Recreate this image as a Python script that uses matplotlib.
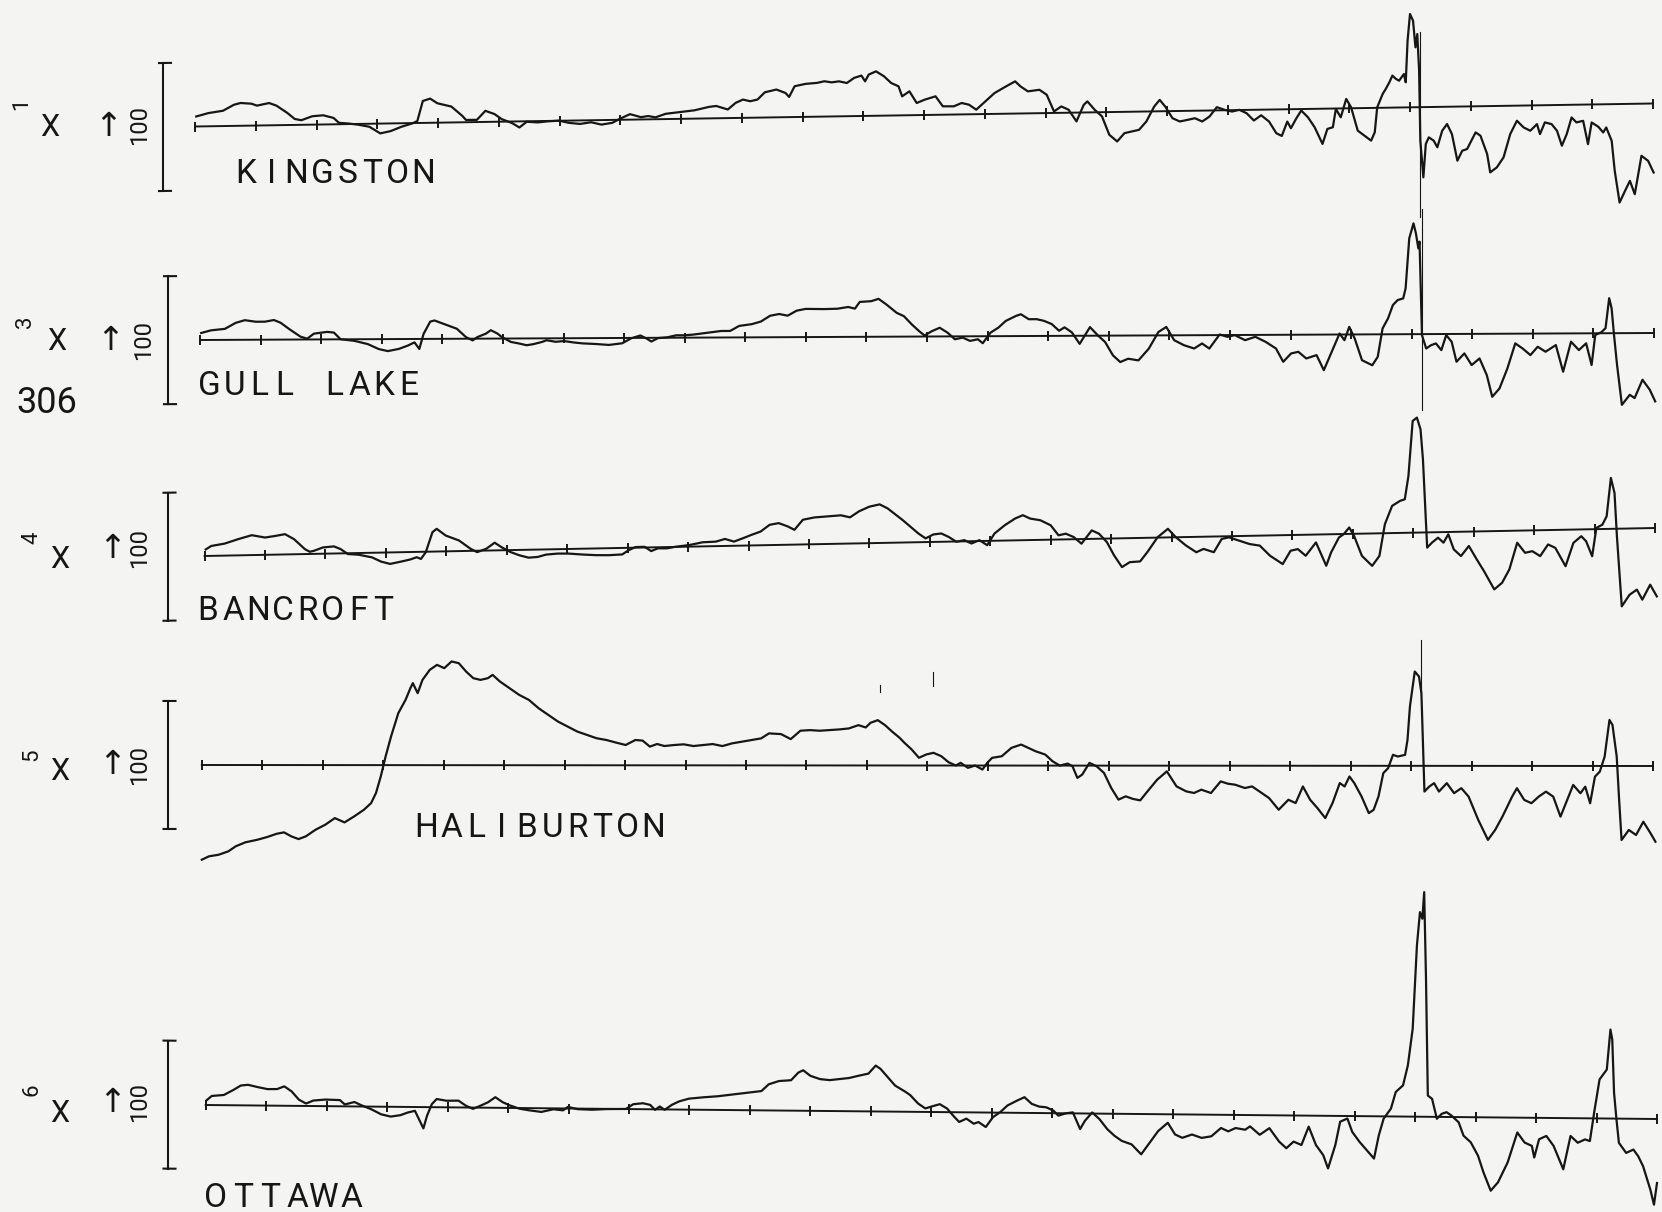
import numpy as np
import matplotlib
matplotlib.use("Agg")
import matplotlib.pyplot as plt
from matplotlib.transforms import Affine2D

# ---------------------------------------------------------------------------
# Aeromagnetic profiles, eastern Ontario.  Distance is in tick intervals
# (0..24 along each line), field is the anomaly in plot units above the
# datum line (positive up).
# ---------------------------------------------------------------------------
stations = ["KINGSTON", "GULL LAKE", "BANCROFT", "HALIBURTON", "OTTAWA"]
profile_numbers = ["1", "3", "4", "5", "6"]
scale_label = "100"
sheet_number = "306"
tick_positions = list(range(25))

kingston = [
    (0.02, 10.0), (0.22, 13.2), (0.46, 15.3), (0.64, 21.1), (0.75, 22.8), (0.93, 21.9),
    (1.02, 19.9), (1.22, 22.3), (1.34, 19.6), (1.52, 12.1), (1.64, 6.0), (1.75, 4.6),
    (1.93, 8.4), (2.11, 9.2), (2.28, 6.4), (2.37, 1.4), (2.52, 0.6), (2.69, -0.8),
    (2.87, -3.0), (3.05, -9.8), (3.22, -7.7), (3.40, -3.5), (3.58, -0.3), (3.66, 2.0),
    (3.75, 21.9), (3.87, 24.2), (3.99, 19.4), (4.22, 15.9), (4.40, 6.4), (4.46, 2.3),
    (4.64, 2.2), (4.78, 11.1), (4.93, 7.7), (5.05, 2.5), (5.22, -1.6), (5.34, -6.1),
    (5.46, -0.5), (5.64, -1.3), (5.81, -0.4), (5.99, 0.1), (6.16, -2.3), (6.34, -3.5),
    (6.52, -2.0), (6.69, -4.5), (6.87, -2.9), (6.99, 0.9), (7.16, 5.5), (7.34, 2.3),
    (7.46, 3.3), (7.58, 1.9), (7.75, 5.3), (7.99, 6.8), (8.22, 8.3), (8.46, 11.5),
    (8.58, 12.3), (8.77, 8.6), (8.90, 15.1), (9.02, 18.3), (9.14, 16.5), (9.26, 18.1),
    (9.38, 25.2), (9.57, 27.8), (9.72, 24.2), (9.78, 20.2), (9.87, 30.8), (10.05, 33.0),
    (10.24, 33.8), (10.36, 35.3), (10.48, 34.1), (10.60, 35.0), (10.73, 33.2), (10.85, 38.2),
    (10.97, 40.4), (11.03, 34.6), (11.09, 41.3), (11.21, 44.4), (11.34, 39.4), (11.46, 32.5),
    (11.58, 29.1), (11.64, 19.0), (11.76, 23.9), (11.88, 12.1), (12.01, 15.3), (12.19, 18.5),
    (12.31, 8.4), (12.49, 8.2), (12.62, 11.4), (12.74, 9.6), (12.86, 4.5), (12.98, 11.0),
    (13.16, 20.8), (13.35, 27.3), (13.50, 32.2), (13.59, 27.0), (13.71, 22.0), (13.90, 23.4),
    (14.02, 18.3), (14.14, 1.5), (14.26, 6.4), (14.38, 3.0), (14.51, -8.8), (14.63, 7.7),
    (14.69, 11.0), (14.81, 2.5), (14.93, -4.2), (15.05, -22.7), (15.18, -29.5), (15.30, -21.3),
    (15.42, -19.7), (15.54, -18.2), (15.66, -10.0), (15.79, 4.9), (15.88, 11.4), (15.97, 4.7),
    (16.09, -7.1), (16.21, -10.5), (16.34, -9.0), (16.46, -7.5), (16.58, -10.9), (16.70, -6.0),
    (16.82, 3.2), (16.95, 0.4), (17.07, -1.4), (17.19, 0.2), (17.31, -3.3), (17.43, -10.7),
    (17.55, -5.6), (17.68, -12.0), (17.80, -23.8), (17.89, -26.6), (17.98, -12.3), (18.04, -19.0),
    (18.13, -9.1), (18.21, -1.5), (18.32, -8.3), (18.43, -18.4), (18.56, -35.2), (18.64, -20.3),
    (18.73, -18.7), (18.78, -0.4), (18.86, -8.9), (18.95, 9.4), (19.03, 1.0), (19.14, -22.5),
    (19.25, -27.6), (19.36, -32.7), (19.42, -24.4), (19.46, 0.5), (19.55, 13.8), (19.60, 18.7),
    (19.66, 25.3), (19.71, 32.0), (19.77, 28.6), (19.82, 26.8), (19.90, 33.4), (19.93, 25.1),
    (19.96, 66.7), (20.00, 93.3), (20.05, 86.6), (20.09, 59.9), (20.12, 73.2), (20.15, 36.5),
    (20.17, -33.5), (20.22, -70.2), (20.26, -36.9), (20.31, -30.3), (20.39, -33.7), (20.45, -40.4),
    (20.53, -23.9), (20.61, -17.3), (20.69, -27.4), (20.78, -54.1), (20.86, -44.2), (20.94, -42.6),
    (21.08, -26.1), (21.16, -29.5), (21.27, -47.9), (21.32, -66.3), (21.43, -61.4), (21.54, -51.5),
    (21.65, -28.3), (21.76, -15.1), (21.87, -21.9), (21.98, -25.3), (22.09, -18.8), (22.14, -28.8),
    (22.22, -17.2), (22.33, -19.0), (22.42, -25.8), (22.50, -40.8), (22.58, -29.2), (22.66, -12.7),
    (22.74, -17.7), (22.85, -16.2), (22.93, -39.6), (22.99, -18.0), (23.10, -22.4), (23.18, -28.2),
    (23.23, -23.2), (23.32, -36.7), (23.37, -66.7), (23.45, -98.5), (23.54, -86.9), (23.62, -77.0),
    (23.70, -90.4), (23.81, -52.1), (23.92, -57.3), (24.01, -69.0),
]

gull_lake = [
    (0.02, 7.0), (0.18, 9.6), (0.41, 11.0), (0.59, 17.0), (0.74, 19.6), (0.92, 18.0),
    (1.07, 18.0), (1.22, 19.6), (1.33, 16.9), (1.48, 10.2), (1.66, 2.8), (1.77, 0.8),
    (1.88, 5.8), (2.10, 7.5), (2.21, 6.8), (2.32, 0.1), (2.55, -1.6), (2.77, -4.9),
    (2.95, -9.9), (3.10, -12.0), (3.28, -9.9), (3.43, -6.6), (3.54, -3.4), (3.62, -10.0),
    (3.69, 5.0), (3.80, 17.3), (3.87, 18.4), (4.02, 15.0), (4.24, 10.0), (4.39, 1.6),
    (4.50, -1.7), (4.58, 1.6), (4.72, 5.0), (4.80, 8.4), (4.91, 5.0), (4.98, 1.6),
    (5.13, -3.4), (5.28, -5.2), (5.39, -6.8), (5.50, -5.8), (5.65, -3.5), (5.72, -1.9),
    (5.87, -3.5), (6.01, -2.8), (6.16, -4.2), (6.31, -5.2), (6.53, -5.9), (6.75, -6.9),
    (6.97, -5.3), (7.12, -0.3), (7.27, 2.4), (7.38, -1.0), (7.45, -3.7), (7.56, -0.3),
    (7.71, 0.4), (7.86, 2.4), (8.01, 2.4), (8.15, 3.1), (8.38, 4.8), (8.60, 6.5),
    (8.75, 6.5), (8.90, 11.5), (9.11, 13.2), (9.26, 15.8), (9.41, 21.5), (9.56, 23.2),
    (9.70, 21.5), (9.85, 26.5), (10.00, 28.2), (10.30, 27.9), (10.52, 28.2), (10.70, 29.9),
    (10.81, 28.2), (10.89, 34.9), (11.08, 35.6), (11.20, 37.9), (11.33, 32.2), (11.50, 23.8),
    (11.62, 20.4), (11.75, 12.1), (11.87, 5.4), (11.96, 1.0), (12.08, 5.3), (12.21, 8.7),
    (12.34, 3.7), (12.46, -2.9), (12.59, -1.3), (12.71, -4.6), (12.84, -3.0), (12.92, -7.0),
    (13.05, 3.6), (13.18, 8.6), (13.30, 15.2), (13.47, 20.2), (13.55, 21.8), (13.68, 16.8),
    (13.81, 16.8), (13.93, 15.1), (14.06, 11.8), (14.18, 5.1), (14.27, 8.5), (14.39, 3.5),
    (14.52, -8.1), (14.69, 8.6), (14.82, 0.3), (14.94, -6.4), (15.07, -19.8), (15.19, -26.5),
    (15.32, -23.2), (15.49, -24.9), (15.66, -13.3), (15.82, 3.4), (15.95, 8.4), (16.08, -4.9),
    (16.24, -9.9), (16.41, -13.3), (16.54, -8.3), (16.66, -13.4), (16.83, 0.6), (16.96, -1.8),
    (17.08, -0.1), (17.25, -5.2), (17.42, -1.9), (17.59, -7.0), (17.76, -13.7), (17.88, -27.0),
    (18.01, -18.7), (18.13, -17.1), (18.26, -23.8), (18.43, -20.5), (18.55, -35.6), (18.68, -17.3),
    (18.81, 1.0), (18.89, -5.7), (18.97, 7.6), (19.06, -4.1), (19.18, -25.8), (19.35, -30.9),
    (19.44, -22.5), (19.52, 5.9), (19.61, 15.9), (19.69, 29.2), (19.77, 34.2), (19.86, 35.8),
    (19.90, 45.8), (19.96, 95.8), (20.03, 110.8), (20.07, 100.8), (20.11, 85.8), (20.13, 92.5),
    (20.17, -1.0), (20.24, -14.4), (20.32, -11.1), (20.40, -9.4), (20.49, -16.1), (20.57, -1.1),
    (20.66, -7.8), (20.74, -27.8), (20.87, -19.5), (20.99, -31.2), (21.12, -24.6), (21.24, -41.3),
    (21.33, -63.0), (21.45, -54.7), (21.58, -34.7), (21.71, -9.7), (21.83, -14.8), (21.96, -21.5),
    (22.08, -13.2), (22.21, -18.2), (22.38, -11.6), (22.50, -38.3), (22.63, -8.3), (22.76, -16.7),
    (22.88, -10.0), (22.97, -31.7), (23.03, -1.7), (23.13, 1.0), (23.20, 5.0), (23.26, 35.0),
    (23.30, 25.0), (23.34, -1.7), (23.39, -31.7), (23.47, -71.7), (23.60, -61.7), (23.68, -65.0),
    (23.81, -46.7), (23.93, -56.7), (24.02, -68.4),
]

bancroft = [
    (0.02, 6.6), (0.11, 9.9), (0.33, 12.0), (0.55, 16.1), (0.78, 19.9), (1.00, 17.3),
    (1.18, 18.8), (1.33, 20.3), (1.48, 15.1), (1.66, 4.9), (1.74, 2.2), (1.81, 3.1),
    (1.96, 6.3), (2.14, 7.1), (2.25, 4.3), (2.37, -0.8), (2.55, -1.7), (2.77, -4.6),
    (2.92, -9.0), (3.07, -11.5), (3.25, -9.4), (3.40, -7.5), (3.51, -5.3), (3.58, -7.1),
    (3.66, -0.5), (3.77, 19.4), (3.84, 22.7), (3.99, 15.8), (4.21, 10.6), (4.40, 2.1),
    (4.51, -1.4), (4.66, 1.8), (4.80, 7.7), (4.91, 3.2), (5.06, -1.9), (5.21, -5.4),
    (5.36, -7.9), (5.51, -7.4), (5.65, -5.2), (5.84, -4.4), (6.02, -4.6), (6.25, -5.8),
    (6.47, -6.7), (6.69, -7.0), (6.91, -6.5), (7.02, -2.3), (7.13, 0.6), (7.28, 0.7),
    (7.39, -3.7), (7.50, -1.1), (7.65, -1.3), (7.80, 0.2), (8.02, 1.6), (8.24, 4.1),
    (8.46, 4.5), (8.61, 7.0), (8.76, 4.2), (8.91, 7.4), (9.05, 10.6), (9.20, 13.7),
    (9.35, 20.3), (9.50, 21.8), (9.65, 18.3), (9.76, 14.8), (9.90, 24.7), (10.09, 26.8),
    (10.31, 27.6), (10.53, 28.4), (10.68, 26.2), (10.83, 32.1), (11.00, 36.5), (11.17, 38.6),
    (11.30, 34.5), (11.43, 28.3), (11.55, 22.5), (11.68, 15.6), (11.81, 8.8), (11.93, 3.7),
    (12.06, 7.5), (12.19, 8.3), (12.31, 4.8), (12.44, -0.3), (12.57, 1.2), (12.69, -2.3),
    (12.82, 0.9), (12.95, -4.3), (13.07, 7.2), (13.24, 15.3), (13.41, 21.8), (13.54, 25.0),
    (13.66, 21.5), (13.83, 19.6), (14.00, 14.4), (14.13, 4.2), (14.25, 5.7), (14.38, 2.2),
    (14.51, -4.6), (14.68, 8.5), (14.80, 5.0), (14.93, -3.5), (15.05, -17.0), (15.18, -28.8),
    (15.31, -24.0), (15.48, -23.5), (15.60, -14.3), (15.77, 0.4), (15.94, 8.6), (16.07, 0.1),
    (16.24, -8.5), (16.41, -15.4), (16.53, -12.2), (16.70, -15.7), (16.83, -2.6), (16.95, -1.1),
    (17.12, -4.6), (17.29, -8.2), (17.46, -10.0), (17.63, -20.3), (17.84, -28.9), (17.97, -15.7),
    (18.09, -14.2), (18.22, -21.0), (18.39, -7.9), (18.56, -31.4), (18.64, -18.2), (18.77, -3.4),
    (18.85, -0.1), (18.94, 6.4), (19.02, -2.0), (19.15, -22.2), (19.32, -32.4), (19.44, -22.6),
    (19.53, 9.0), (19.65, 27.2), (19.78, 32.0), (19.86, 33.6), (19.92, 56.8), (19.99, 111.7),
    (20.06, 115.0), (20.12, 103.2), (20.16, 73.2), (20.23, -15.2), (20.31, -10.3), (20.41, -5.5),
    (20.50, -10.6), (20.58, -2.3), (20.67, -17.5), (20.79, -24.3), (20.92, -14.4), (21.05, -27.9),
    (21.17, -39.8), (21.34, -58.3), (21.47, -51.8), (21.59, -38.6), (21.72, -12.1), (21.85, -22.3),
    (21.97, -20.8), (22.10, -25.9), (22.23, -14.4), (22.35, -17.9), (22.52, -36.5), (22.65, -13.3),
    (22.78, -6.8), (22.86, -11.9), (22.96, -27.0), (23.03, 1.2), (23.13, 4.4), (23.20, 12.7),
    (23.27, 50.9), (23.33, 35.8), (23.37, -7.6), (23.45, -77.7), (23.58, -66.2), (23.70, -61.3),
    (23.79, -71.4), (23.92, -56.6), (24.03, -68.4),
]

haliburton = [
    (0.00, -94.7), (0.12, -91.3), (0.28, -89.7), (0.44, -86.3), (0.56, -81.3), (0.72, -77.3),
    (0.92, -74.7), (1.08, -72.0), (1.24, -68.7), (1.36, -67.3), (1.48, -71.3), (1.60, -74.0),
    (1.72, -71.3), (1.88, -64.7), (2.04, -59.7), (2.20, -53.0), (2.36, -57.3), (2.52, -51.3),
    (2.68, -44.7), (2.80, -38.0), (2.88, -28.0), (2.96, -11.3), (3.04, 8.7), (3.13, 28.7),
    (3.25, 52.0), (3.37, 65.3), (3.45, 77.0), (3.49, 82.0), (3.57, 72.0), (3.65, 85.3),
    (3.77, 95.3), (3.89, 100.3), (4.01, 97.0), (4.13, 103.7), (4.25, 102.0), (4.37, 93.7),
    (4.49, 87.0), (4.61, 85.3), (4.73, 87.0), (4.81, 90.3), (4.93, 83.7), (5.09, 77.0),
    (5.25, 70.3), (5.41, 65.3), (5.57, 57.0), (5.73, 50.3), (5.89, 43.7), (6.05, 38.7),
    (6.21, 33.7), (6.37, 30.3), (6.53, 27.0), (6.69, 25.3), (6.85, 22.7), (7.01, 20.3),
    (7.17, 25.3), (7.29, 24.7), (7.41, 18.7), (7.53, 21.3), (7.65, 19.3), (7.81, 20.3),
    (7.97, 21.0), (8.13, 19.3), (8.29, 20.3), (8.45, 21.3), (8.61, 19.3), (8.77, 22.0),
    (8.93, 23.7), (9.09, 25.3), (9.25, 27.0), (9.38, 32.0), (9.58, 31.3), (9.74, 26.3),
    (9.90, 34.7), (10.06, 35.3), (10.22, 34.7), (10.38, 35.3), (10.54, 36.0), (10.70, 37.0),
    (10.86, 40.3), (10.98, 38.0), (11.06, 42.7), (11.18, 45.3), (11.30, 40.3), (11.42, 33.7),
    (11.54, 27.7), (11.62, 22.7), (11.74, 16.0), (11.86, 7.7), (11.98, 11.0), (12.10, 12.7),
    (12.23, 9.3), (12.35, 3.3), (12.47, 0.0), (12.55, 2.7), (12.67, -2.3), (12.79, 0.0),
    (12.91, -4.0), (12.99, 2.7), (13.07, 7.7), (13.23, 9.3), (13.39, 17.7), (13.55, 21.0),
    (13.67, 17.7), (13.79, 14.3), (13.95, 11.0), (14.07, 4.3), (14.19, 0.0), (14.32, 2.0),
    (14.40, -0.7), (14.48, -12.3), (14.56, -9.0), (14.68, 2.7), (14.80, -0.7), (14.92, -7.3),
    (15.04, -22.3), (15.16, -34.0), (15.28, -30.7), (15.40, -33.3), (15.52, -34.7), (15.64, -25.7),
    (15.80, -14.0), (15.96, -5.7), (16.12, -20.7), (16.28, -25.7), (16.41, -27.3), (16.53, -24.0),
    (16.69, -27.3), (16.85, -15.7), (16.97, -18.0), (17.09, -19.0), (17.25, -22.3), (17.37, -20.7),
    (17.49, -25.7), (17.65, -32.3), (17.81, -44.0), (17.97, -34.0), (18.09, -37.3), (18.21, -20.7),
    (18.33, -34.0), (18.45, -42.3), (18.58, -52.3), (18.70, -37.3), (18.82, -17.3), (18.90, -20.7),
    (18.98, -10.7), (19.06, -17.3), (19.18, -30.7), (19.30, -47.3), (19.38, -44.0), (19.46, -30.7),
    (19.54, -7.3), (19.62, -2.3), (19.70, 11.0), (19.78, 9.3), (19.90, 11.0), (19.94, 26.0),
    (19.98, 59.3), (20.06, 94.3), (20.13, 89.3), (20.17, 72.7), (20.22, -25.7), (20.30, -20.7),
    (20.38, -17.3), (20.46, -25.7), (20.59, -17.3), (20.71, -27.3), (20.83, -22.3), (20.95, -30.7),
    (21.11, -54.0), (21.27, -74.0), (21.39, -64.0), (21.51, -50.7), (21.67, -30.7), (21.75, -22.3),
    (21.87, -34.0), (21.99, -37.3), (22.11, -30.7), (22.23, -25.7), (22.35, -30.7), (22.47, -50.7),
    (22.58, -34.0), (22.68, -19.0), (22.80, -27.3), (22.88, -20.7), (22.96, -37.3), (23.04, -10.7),
    (23.12, -5.7), (23.20, 9.3), (23.28, 46.0), (23.33, 41.0), (23.40, 9.3), (23.44, -34.0),
    (23.48, -74.0), (23.60, -64.0), (23.72, -69.0), (23.84, -55.7), (23.96, -67.3), (24.04, -75.7),
]

ottawa = [
    (0.02, 5.0), (0.10, 9.1), (0.30, 10.2), (0.46, 15.4), (0.58, 19.8), (0.70, 20.6),
    (0.86, 18.4), (1.02, 16.5), (1.18, 16.6), (1.30, 19.4), (1.42, 14.5), (1.54, 6.3),
    (1.66, 2.4), (1.78, 5.5), (1.98, 6.6), (2.22, 6.2), (2.30, 1.9), (2.46, 4.4),
    (2.58, 1.1), (2.74, -2.7), (2.90, -7.6), (3.06, -9.8), (3.22, -8.3), (3.34, -5.6),
    (3.46, -3.8), (3.54, -13.7), (3.60, -21.3), (3.66, -8.6), (3.74, 3.1), (3.82, 8.2),
    (3.98, 6.6), (4.18, 6.8), (4.30, 1.9), (4.42, -1.3), (4.55, 2.1), (4.67, 5.5),
    (4.79, 10.6), (4.91, 5.7), (5.03, 2.5), (5.19, -0.7), (5.35, -2.2), (5.55, -3.7),
    (5.75, -0.9), (5.91, -1.9), (5.99, 1.6), (6.15, -0.6), (6.39, -1.0), (6.63, -0.2),
    (6.79, 0.0), (6.95, 0.1), (7.07, 4.9), (7.23, 6.0), (7.35, 4.4), (7.43, -0.5),
    (7.51, 2.9), (7.59, -0.4), (7.71, 4.7), (7.83, 8.2), (7.99, 11.0), (8.23, 12.5),
    (8.47, 13.7), (8.71, 15.6), (8.95, 17.4), (9.19, 19.3), (9.31, 26.1), (9.48, 29.5),
    (9.68, 30.4), (9.80, 38.1), (9.88, 40.5), (10.00, 35.0), (10.16, 31.8), (10.32, 30.9),
    (10.48, 32.0), (10.64, 33.2), (10.80, 35.6), (10.96, 37.8), (11.08, 45.9), (11.16, 42.6),
    (11.28, 34.4), (11.40, 26.1), (11.57, 20.0), (11.65, 16.7), (11.78, 8.4), (11.90, 3.5),
    (12.02, 5.8), (12.14, 7.9), (12.26, 3.6), (12.38, -4.7), (12.46, -9.7), (12.58, -6.3),
    (12.70, -11.3), (12.78, -9.6), (12.90, -14.5), (13.02, -4.5), (13.14, 0.6), (13.26, 7.3),
    (13.42, 12.3), (13.54, 15.7), (13.66, 9.1), (13.78, 6.5), (13.90, 5.8), (14.02, 2.5),
    (14.10, -2.4), (14.22, -0.1), (14.34, 1.0), (14.46, -15.6), (14.54, -7.3), (14.66, 1.1),
    (14.78, -5.5), (14.91, -15.5), (15.03, -22.1), (15.15, -27.1), (15.31, -30.4), (15.47, -40.3),
    (15.59, -30.3), (15.75, -16.9), (15.91, -8.5), (16.03, -20.1), (16.15, -23.4), (16.31, -20.0),
    (16.47, -23.3), (16.63, -21.6), (16.79, -13.2), (16.91, -16.5), (17.03, -13.1), (17.19, -14.7),
    (17.27, -11.3), (17.43, -19.6), (17.59, -12.9), (17.75, -26.2), (17.87, -32.8), (17.99, -26.1),
    (18.12, -29.4), (18.24, -11.0), (18.36, -29.3), (18.48, -39.3), (18.56, -52.6), (18.68, -29.2),
    (18.76, -5.8), (18.88, -2.5), (18.96, -15.8), (19.08, -25.7), (19.20, -34.0), (19.32, -42.3),
    (19.40, -18.9), (19.48, -2.2), (19.60, 7.8), (19.68, 24.5), (19.80, 31.2), (19.88, 51.2),
    (19.96, 87.9), (20.03, 171.3), (20.08, 204.6), (20.12, 198.0), (20.15, 224.6), (20.18, 138.0),
    (20.21, 21.3), (20.28, 18.0), (20.36, -1.9), (20.44, 3.1), (20.52, 4.8), (20.60, 1.5),
    (20.72, -5.2), (20.80, -18.5), (20.92, -25.1), (21.04, -38.4), (21.13, -55.0), (21.25, -73.3),
    (21.37, -64.9), (21.53, -44.9), (21.69, -14.8), (21.81, -24.8), (21.93, -28.1), (21.97, -39.7),
    (22.05, -21.4), (22.17, -18.0), (22.29, -27.9), (22.45, -51.2), (22.57, -17.8), (22.69, -24.5),
    (22.81, -21.1), (22.89, -22.7), (22.96, 5.6), (23.05, 39.0), (23.17, 49.0), (23.23, 89.0),
    (23.26, 79.1), (23.29, 25.7), (23.33, -0.9), (23.37, -24.2), (23.49, -34.2), (23.61, -30.8),
    (23.69, -37.5), (23.77, -47.4), (23.89, -70.7), (23.95, -85.7), (24.00, -64.0),
]

# section-boundary strokes: (distance, top, bottom) in the same units
boundary_marks = {
    "KINGSTON": [(20.17, 75.0, -110.0)],
    "GULL LAKE": [(20.17, 125.0, -76.0)],
    "BANCROFT": [],
    "HALIBURTON": [(20.17, 126.0, 73.0), (11.21, 80.0, 73.5), (12.09, 94.0, 80.0)],
    "OTTAWA": [],
}

profiles = [kingston, gull_lake, bancroft, haliburton, ottawa]

# ---------------------------------------------------------------------------
# Page layout (pixels on a 1662 x 1212 sheet)
# ---------------------------------------------------------------------------
W, H = 1662, 1212
# datum line: x at first tick, x at last tick, y at first tick, y at last tick
datum = [
    (195.0, 1653.0, 126.5, 103.5),
    (200.0, 1654.0, 340.0, 333.0),
    (204.6, 1655.0, 556.0, 528.0),
    (201.8, 1653.0, 765.0, 766.0),
    (205.7, 1657.0, 1105.0, 1119.0),
]
bar_x = [163.0, 168.0, 167.5, 167.5, 167.5]
bar_half = 64.0
# left-hand annotation positions: number, X, arrow, scale value
num_xy = [(22, 104), (25, 322), (32, 538), (32, 755), (32, 1090)]
x_xy = [(50, 128), (57, 342), (60, 560), (60, 771), (60, 1113)]
arrow_xy = [(108, 127), (110, 340), (112, 548), (112, 765), (112, 1102)]
hundred_xy = [(140, 125), (144, 340), (140, 548), (140, 765), (140, 1102)]
# station names: left edge, baseline, character pitch
name_layout = [(237, 183, 25.3), (200, 395, 25.0), (199, 620, 25.0),
               (417, 837, 25.2), (207, 1207, 27.0)]

INK = "#161616"
PAPER = "#f4f4f2"
TRACE_LW = 1.6
BASE_LW = 1.4

plt.rcParams["font.family"] = ["Roboto", "DejaVu Sans"]

fig = plt.figure(figsize=(W / 100, H / 100), dpi=100, facecolor=PAPER)

page = fig.add_axes([0, 0, 1, 1])
page.set_xlim(0, W)
page.set_ylim(H, 0)
page.set_facecolor(PAPER)
page.axis("off")

for i, (name, data) in enumerate(zip(stations, profiles)):
    x0, x24, y0, y24 = datum[i]
    s = (x24 - x0) / 24.0          # pixels per distance unit
    k = (y24 - y0) / 24.0          # datum drift (pixels down per unit)

    ax = fig.add_axes([0, 0, 1, 1])
    ax.set_xlim(-x0 / s, (W - x0) / s)
    ax.set_ylim(-(H - y0), y0)
    ax.patch.set_alpha(0)
    ax.axis("off")
    tr = Affine2D(np.array([[1.0, 0.0, 0.0], [-k, 1.0, 0.0], [0.0, 0.0, 1.0]])) + ax.transData

    dist, field = np.array(data).T
    ax.plot(dist, field, color=INK, lw=TRACE_LW, transform=tr, clip_on=False,
            solid_joinstyle="round")

    # datum line with distance ticks
    ax.plot([tick_positions[0], tick_positions[-1]], [0, 0], color=INK, lw=BASE_LW,
            transform=tr, clip_on=False)
    ax.plot(tick_positions, np.zeros(len(tick_positions)), ls="none", marker="|",
            ms=6.5, mew=1.4, color=INK, transform=tr, clip_on=False)

    for (u, top, bot) in boundary_marks[name]:
        ax.plot([u, u], [bot, top], color=INK, lw=0.8, transform=tr, clip_on=False)

    # vertical scale bar
    ub = (bar_x[i] - x0) / s
    ax.plot([ub, ub], [-bar_half, bar_half], color=INK, lw=1.5, transform=tr, clip_on=False)
    for yy in (-bar_half, bar_half):
        ax.plot([ub - 4 / s, ub + 8 / s], [yy, yy], color=INK, lw=1.5,
                transform=tr, clip_on=False)

    # left-hand annotations
    page.text(*num_xy[i], profile_numbers[i], rotation=90, ha="center", va="center",
              fontsize=16, color=INK)
    page.text(*x_xy[i], "X", ha="center", va="center", fontsize=22, color=INK)
    page.text(*arrow_xy[i], "↑", ha="center", va="center", fontsize=24, color=INK,
              family=["DejaVu Sans"])
    page.text(*hundred_xy[i], scale_label, rotation=90, ha="center", va="center",
              fontsize=17, color=INK)

    # station name, plotter-style spaced capitals
    nx, ny, pitch = name_layout[i]
    for j, ch in enumerate(name):
        page.text(nx + 9 + j * pitch, ny, ch, ha="center", va="baseline", fontsize=24,
                  color=INK)

page.text(16, 413, sheet_number, ha="left", va="baseline", fontsize=26, color=INK)

fig.savefig("out.png", dpi=100, facecolor=PAPER)
